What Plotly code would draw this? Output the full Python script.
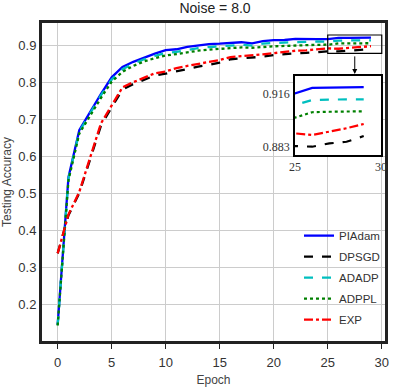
import plotly.graph_objects as go

epochs = list(range(30))
piadam = [0.144, 0.543, 0.670, 0.719, 0.768, 0.813, 0.841, 0.855, 0.867, 0.877,
          0.8865, 0.889, 0.8955, 0.900, 0.9027, 0.904, 0.907, 0.908, 0.905, 0.911,
          0.9135, 0.914, 0.917, 0.916, 0.9165, 0.9166, 0.920, 0.920, 0.9203, 0.9205]
dpsgd = [0.337, 0.440, 0.500, 0.594, 0.682, 0.732, 0.780, 0.795, 0.807, 0.818,
         0.823, 0.830, 0.836, 0.842, 0.847, 0.853, 0.862, 0.864, 0.867, 0.869,
         0.873, 0.876, 0.878, 0.879, 0.881, 0.8834, 0.883, 0.8851, 0.8861, 0.8897]
adadp = [0.143, 0.540, 0.666, 0.715, 0.764, 0.807, 0.835, 0.850, 0.862, 0.871,
         0.879, 0.882, 0.888, 0.892, 0.895, 0.897, 0.900, 0.901, 0.899, 0.904,
         0.906, 0.907, 0.909, 0.909, 0.910, 0.9093, 0.9124, 0.9128, 0.9128, 0.9128]
adppl = [0.142, 0.535, 0.661, 0.710, 0.757, 0.801, 0.828, 0.844, 0.856, 0.865,
         0.872, 0.876, 0.881, 0.885, 0.888, 0.890, 0.892, 0.894, 0.893, 0.896,
         0.897, 0.898, 0.900, 0.900, 0.901, 0.9013, 0.9047, 0.905, 0.905, 0.9053]
exp_ = [0.337, 0.442, 0.503, 0.598, 0.688, 0.737, 0.786, 0.800, 0.813, 0.824,
        0.829, 0.838, 0.844, 0.849, 0.853, 0.860, 0.868, 0.870, 0.873, 0.875,
        0.8785, 0.882, 0.885, 0.886, 0.889, 0.8914, 0.8904, 0.8925, 0.8946, 0.8973]

names = ["PIAdam", "DPSGD", "ADADP", "ADPPL", "EXP"]
series = [piadam, dpsgd, adadp, adppl, exp_]
colors = ["#0000ff", "#000000", "#00bfbf", "#008000", "#ff0000"]
dashes = ["solid", "dash", "dash", "dot", "dashdot"]

x_ticks = [0, 5, 10, 15, 20, 25, 30]
y_ticks = [0.2, 0.3, 0.4, 0.5, 0.6, 0.7, 0.8, 0.9]
zoom_x = [25, 30]
zoom_y = [0.8778, 0.9275]
inset_yticks = [0.883, 0.916]

SANS = "Liberation Sans, Arial, sans-serif"
SERIF = "Liberation Serif, Times New Roman, serif"

fig = go.Figure()
for n, s, c, d in zip(names, series, colors, dashes):
    fig.add_trace(go.Scatter(x=epochs, y=s, mode="lines", name=n, legendgroup=n,
                             line=dict(color=c, dash=d, width=2.3)))
for n, s, c, d in zip(names, series, colors, dashes):
    fig.add_trace(go.Scatter(x=epochs, y=s, mode="lines", name=n, showlegend=False,
                             legendgroup=n, line=dict(color=c, dash=d, width=2.2),
                             xaxis="x2", yaxis="y2"))

# zoom rectangle on main plot
fig.add_shape(type="rect", xref="x", yref="y", x0=zoom_x[0], x1=zoom_x[1],
              y0=zoom_y[0], y1=zoom_y[1], line=dict(color="black", width=1.2))
# inset white background (drawn in the inset subplot, above main gridlines)
fig.add_shape(type="rect", xref="x2", yref="y2", x0=zoom_x[0], x1=zoom_x[1],
              y0=zoom_y[0], y1=zoom_y[1],
              fillcolor="white", line=dict(width=0), layer="below")
# arrow
fig.add_annotation(x=(zoom_x[0] + zoom_x[1]) / 2, y=0.84, xref="x", yref="paper",
                   text="", showarrow=True, ax=0, ay=-19, arrowhead=2,
                   arrowsize=1, arrowwidth=1, arrowcolor="black")

fig.update_layout(
    width=394, height=390,
    margin=dict(l=42, r=9, t=23, b=49),
    paper_bgcolor="white", plot_bgcolor="white",
    title=dict(text="Noise = 8.0", x=0.5457, xanchor="center", y=0.9787, yanchor="middle",
               font=dict(family=SANS, size=14, color="#222")),
    font=dict(family=SANS, size=13, color="#333"),
    xaxis=dict(range=[-1.45, 30.3], tickvals=x_ticks, showgrid=True, gridcolor="#cccccc",
               gridwidth=1, showline=True, mirror=True, linewidth=3, linecolor="#222",
               ticks="outside", ticklen=5, tickcolor="#222", zeroline=False,
               automargin=False, ticklabelstandoff=2,
               tickfont=dict(family=SANS, size=13, color="#333"),
               title=dict(text="Epoch", standoff=8, font=dict(family=SANS, size=12, color="#444"))),
    yaxis=dict(range=[0.10, 0.96], tickvals=y_ticks, ticktext=[f"{v:.1f}" for v in y_ticks],
               showgrid=True, gridcolor="#cccccc", gridwidth=1,
               showline=True, mirror=True, linewidth=3, linecolor="#222",
               ticks="", zeroline=False, automargin=False,
               tickfont=dict(family=SANS, size=13, color="#333"),
               title=dict(text="Testing Accuracy", standoff=8,
                          font=dict(family=SANS, size=12, color="#444"))),
    xaxis2=dict(domain=[0.7376, 0.988], anchor="y2", range=zoom_x, tickvals=zoom_x,
                showgrid=False, showline=True, mirror=True, linewidth=1.5, linecolor="black",
                ticks="", zeroline=False, ticklabelstandoff=0, automargin=False,
                tickfont=dict(family=SERIF, size=12, color="#333")),
    yaxis2=dict(domain=[0.585, 0.8333], anchor="x2", range=zoom_y, tickvals=inset_yticks,
                ticktext=[f"{v:.3f}" for v in inset_yticks],
                showgrid=False, showline=True, mirror=True, linewidth=1.5, linecolor="black",
                ticks="", zeroline=False, ticklabelstandoff=1, automargin=False,
                tickfont=dict(family=SERIF, size=12, color="#333")),
    legend=dict(x=1.0, y=0.377, xanchor="right", yanchor="top", bgcolor="rgba(0,0,0,0)",
                font=dict(family=SANS, size=11.5, color="#333"), itemwidth=30,
                tracegroupgap=2),
    showlegend=True,
)

fig.write_html("out.html", config={"displayModeBar": False},
               post_script="document.body.style.margin='0px';document.body.style.overflow='hidden';")
